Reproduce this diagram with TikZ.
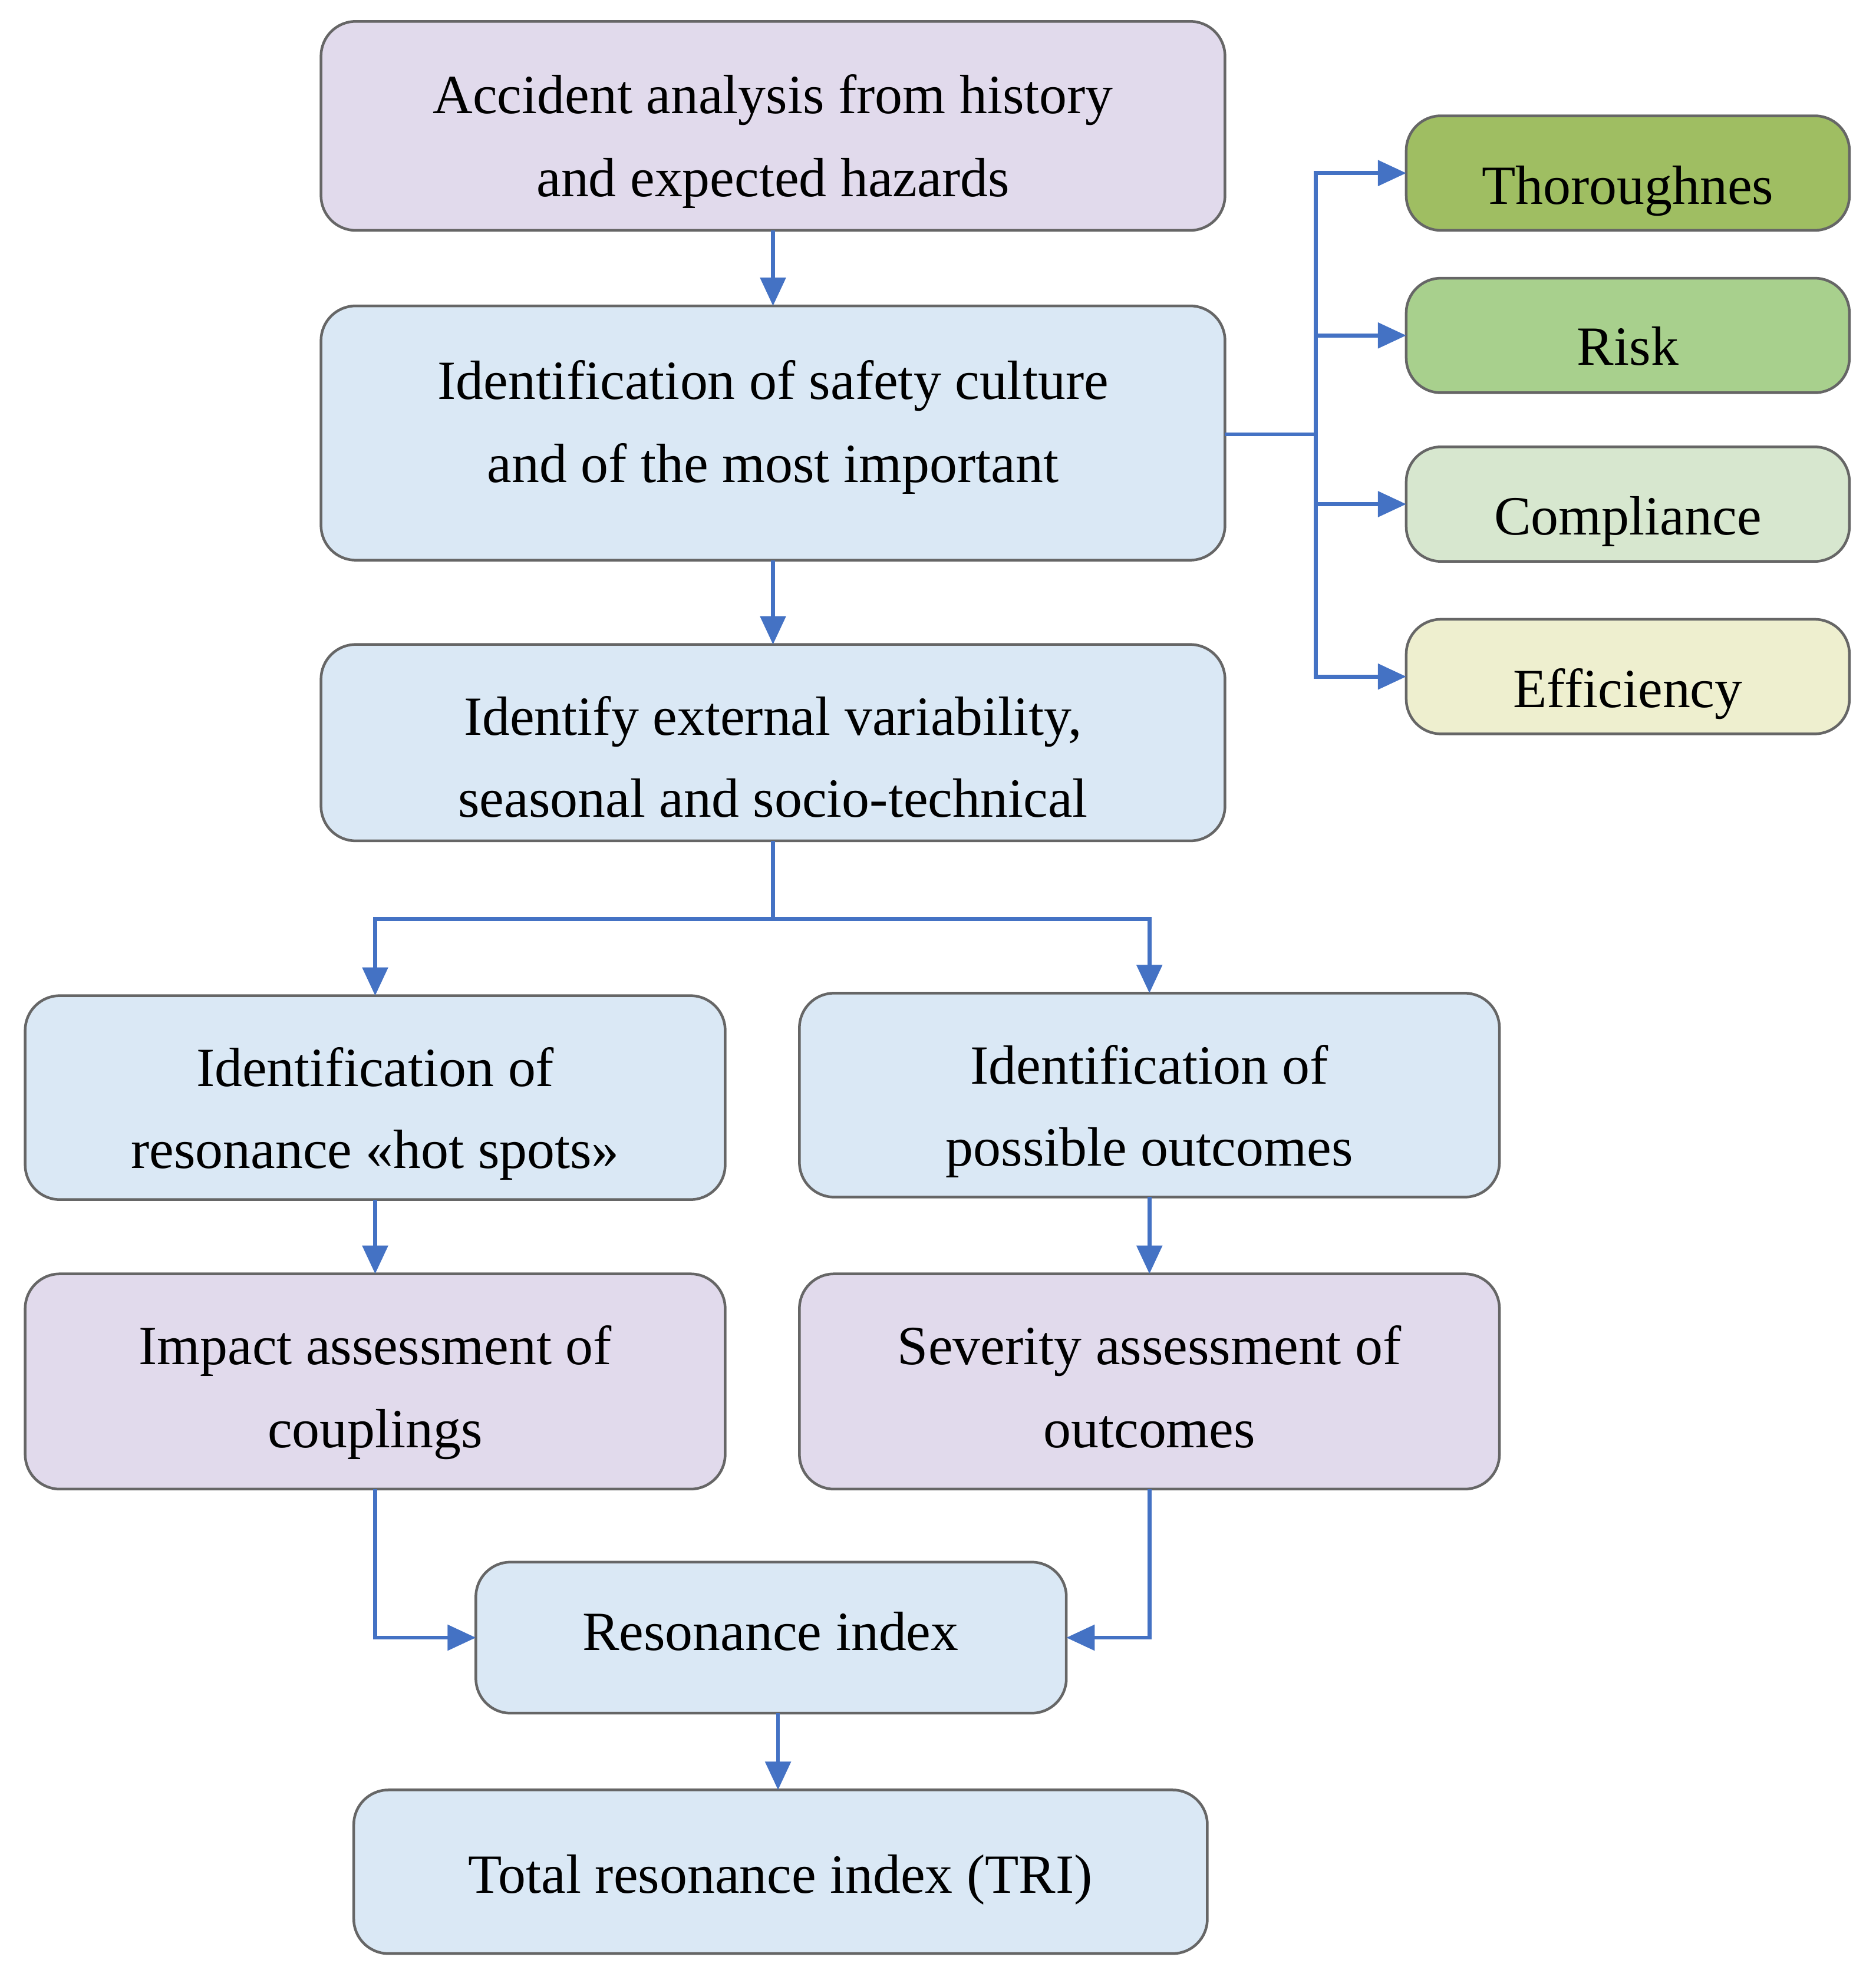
\documentclass[tikz,border=0pt]{standalone}
\usepackage{fontspec}
\setmainfont{Liberation Serif}
\usetikzlibrary{arrows.meta}
\definecolor{pur}{HTML}{E1DAEC}
\definecolor{blu}{HTML}{DAE8F5}
\definecolor{arr}{HTML}{4472C4}
\definecolor{gA}{HTML}{9FBE62}
\definecolor{gB}{HTML}{A8D08D}
\definecolor{gC}{HTML}{D7E7CF}
\definecolor{gD}{HTML}{EEEFCF}
\begin{document}
\begin{tikzpicture}[x=0.02cm,y=-0.02cm,
 box/.style={draw=gray!80!black,line width=1.2pt,rounded corners=0.55cm,inner sep=0pt},
 txt/.style={font=\fontsize{25}{30}\selectfont,align=center,inner sep=0pt,anchor=base},
 ar/.style={draw=arr,line width=1.8pt,-{Triangle[length=0.45cm,width=0.4cm]}},
 ln/.style={draw=arr,line width=1.8pt}]
\useasboundingbox (0,0) rectangle (1490,1573);
\newcommand{\bx}[6]{\path[box,fill=#6] (#2,#3) rectangle (#4,#5) node[pos=0.5] (#1) {};
 \coordinate (#1n) at ({(#2+#4)/2},#3); \coordinate (#1s) at ({(#2+#4)/2},#5);
 \coordinate (#1w) at (#2,{(#3+#5)/2}); \coordinate (#1e) at (#4,{(#3+#5)/2});}
\bx{b1}{255}{17}{973}{183}{pur}
\bx{b2}{255}{243}{973}{445}{blu}
\bx{b3}{255}{512}{973}{668}{blu}
\bx{b4}{20}{791}{576}{953}{blu}
\bx{b5}{635}{789}{1191}{951}{blu}
\bx{b6}{20}{1012}{576}{1183}{pur}
\bx{b7}{635}{1012}{1191}{1183}{pur}
\bx{b8}{378}{1241}{847}{1361}{blu}
\bx{b9}{281}{1422}{959}{1552}{blu}
\bx{r1}{1117}{92}{1469}{183}{gA}
\bx{r2}{1117}{221}{1469}{312}{gB}
\bx{r3}{1117}{355}{1469}{446}{gC}
\bx{r4}{1117}{492}{1469}{583}{gD}
\node[txt] (t1a) at (614,90) {Accident analysis from history};
\node[txt] (t1b) at (614,156) {and expected hazards};
\node[txt] (t2a) at (614,317) {Identification of safety culture};
\node[txt] (t2b) at (614,383) {and of the most important};
\node[txt] (t3a) at (614,584) {Identify external variability,};
\node[txt] (t3b) at (614,649) {seasonal and socio-technical};
\node[txt] (t4a) at (298,863) {Identification of};
\node[txt] (t4b) at (298,928) {resonance «hot spots»};
\node[txt] (t5a) at (913,861) {Identification of};
\node[txt] (t5b) at (913,926) {possible outcomes};
\node[txt] (t6a) at (298,1084) {Impact assessment of};
\node[txt] (t6b) at (298,1150) {couplings};
\node[txt] (t7a) at (913,1084) {Severity assessment of};
\node[txt] (t7b) at (913,1150) {outcomes};
\node[txt] (t8) at (612,1311) {Resonance index};
\node[txt] (t9) at (620,1504) {Total resonance index (TRI)};
\node[txt] (tr1) at (1293,162) {Thoroughnes};
\node[txt] (tr2) at (1293,290) {Risk};
\node[txt] (tr3) at (1293,425) {Compliance};
\node[txt] (tr4) at (1293,562) {Efficiency};
\draw[ar] (b1s) -- (b2n);
\draw[ar] (b2s) -- (b3n);
\coordinate (j) at (614,730);
\draw[ln] (b3s) -- (j);
\draw[ar] (j) -| (b4n);
\draw[ar] (j) -| (b5n);
\draw[ar] (b4s) -- (b6n);
\draw[ar] (b5s) -- (b7n);
\draw[ar] (b6s) |- (b8w);
\draw[ar] (b7s) |- (b8e);
\draw[ar] (618,1361) -- (618,1422);
\coordinate (k) at (1045,345);
\draw[ln] (973,345) -- (k);
\draw[ar] (k) |- (r1w);
\draw[ar] (k) |- (r2w);
\draw[ar] (k) |- (r3w);
\draw[ar] (k) |- (r4w);
\end{tikzpicture}
\end{document}
